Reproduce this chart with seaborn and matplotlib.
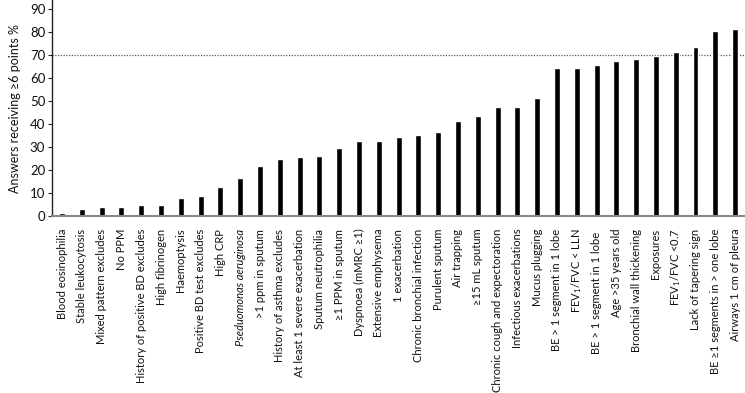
import matplotlib
matplotlib.use("Agg")
import matplotlib.pyplot as plt
import seaborn as sns
import pandas as pd

categories = [
    "Blood eosinophilia", "Stable leukocytosis", "Mixed pattern excludes", "No PPM",
    "History of positive BD excludes", "High fibrinogen", "Haemoptysis",
    "Positive BD test excludes", "High CRP", "Pseduomonas aeruginosa",
    ">1 ppm in sputum", "History of asthma excludes", "At least 1 severe exacerbation",
    "Sputum neutrophilia", "≥1 PPM in sputum", "Dyspnoea (mMRC ≥1)", "Extensive emphysema",
    "1 exacerbation", "Chronic bronchial infection", "Purulent sputum", "Air trapping",
    "≥15 mL sputum", "Chronic cough and expectoration", "Infectious exacerbations",
    "Mucus plugging", "BE > 1 segment in 1 lobe", "FEV$_1$/FVC < LLN",
    "BE > 1 segment in 1 lobe ", "Age >35 years old", "Bronchial wall thickening",
    "Exposures", "FEV$_1$/FVC <0.7", "Lack of tapering sign",
    "BE ≥1 segments in > one lobe", "Airways 1 cm of pleura",
]
values = [1.2, 2.9, 3.9, 3.9, 4.9, 4.9, 7.9, 8.7, 12.7, 16.7, 21.8, 24.8, 25.8, 26.1,
          29.6, 32.5, 32.5, 34.6, 35.5, 36.5, 41.5, 43.5, 47.6, 47.6, 51.3, 64.5, 64.5,
          65.7, 67.6, 68.4, 69.6, 71.5, 73.4, 80.5, 81.4]
yticks = list(range(0, 91, 10))
threshold = 70

sns.set_theme(style="white")
plt.rcParams['font.family'] = ['Lato', 'DejaVu Sans']
plt.rcParams['mathtext.fontset'] = 'custom'
plt.rcParams['mathtext.rm'] = 'Lato'
plt.rcParams['mathtext.it'] = 'Lato:italic'

df = pd.DataFrame({"cat": categories, "val": values})

fig = plt.figure(figsize=(7.45, 3.93), dpi=100)
ax = fig.add_axes([0.07, 0.45, 0.93, 0.55])
sns.barplot(data=df, x="cat", y="val", color="black", width=0.3, ax=ax,
            saturation=1, order=categories)
ax.set_xlim(-0.5, len(categories) - 0.5)
ax.set_ylim(0, 94)
ax.set_yticks(yticks)
ax.set_yticklabels([str(t) for t in yticks], fontsize=9.5, color="#111111")
ax.axhline(threshold, color="#555555", linestyle=(0, (1, 1.2)), linewidth=0.9, zorder=0)

ax.set_xticks(range(len(categories)))
ax.set_xticklabels(categories, rotation=90, fontsize=8.0, ha="center", va="top",
                   color="#111111")
for lab in ax.get_xticklabels():
    if "aeruginosa" in lab.get_text():
        lab.set_fontstyle("italic")
ax.set_xlabel("")
ax.set_ylabel("Answers receiving ≥6 points %", fontsize=9, labelpad=6, color="#111111")

for s in ["top", "right"]:
    ax.spines[s].set_visible(False)
ax.spines["left"].set_color("#222222")
ax.spines["left"].set_linewidth(1.0)
ax.spines["bottom"].set_color("#888888")
ax.spines["bottom"].set_linewidth(1.5)
ax.tick_params(axis="y", which="both", left=True, length=3, width=0.8, color="#222222", pad=2)
ax.tick_params(axis="x", bottom=False, pad=3)

fig.savefig("out.png", dpi=100)
